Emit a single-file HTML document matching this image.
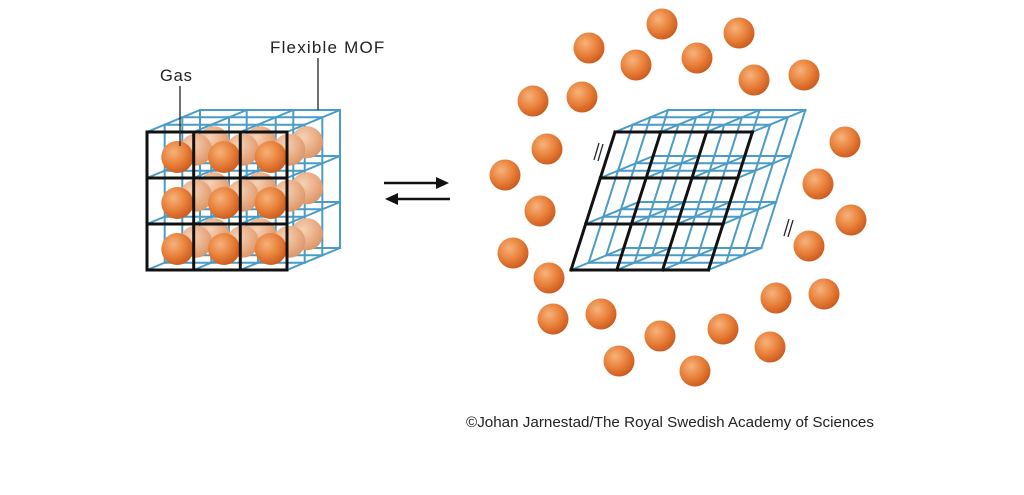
<!DOCTYPE html>
<html><head><meta charset="utf-8"><style>
html,body{margin:0;padding:0;background:#fff;}
#c{width:1024px;height:495px;position:relative;overflow:hidden;}
text{font-family:"Liberation Sans",sans-serif;}
</style></head><body><div id="c">
<svg id="s" width="1024" height="495" viewBox="0 0 1024 495" xmlns="http://www.w3.org/2000/svg">
<defs>
<radialGradient id="b" cx="0.38" cy="0.35" r="0.7">
<stop offset="0" stop-color="#f7b27a"/><stop offset="0.55" stop-color="#e8803a"/><stop offset="1" stop-color="#c9581c"/>
</radialGradient>
<radialGradient id="bl" cx="0.38" cy="0.35" r="0.7">
<stop offset="0" stop-color="#f6d2b6"/><stop offset="0.6" stop-color="#e9ad85"/><stop offset="1" stop-color="#d99468"/>
</radialGradient>
</defs>
<g id="g"></g>
<text x="160" y="81" font-size="16.5" letter-spacing="0.8" fill="#222">Gas</text>
<line x1="180" y1="86" x2="180" y2="146" stroke="#222" stroke-width="1.3"/>
<text x="270" y="53" font-size="17" letter-spacing="1.2" fill="#222">Flexible MOF</text>
<line x1="318" y1="58" x2="318" y2="110" stroke="#222" stroke-width="1.3"/>
<line x1="384" y1="183" x2="438" y2="183" stroke="#111" stroke-width="2.5"/>
<polygon points="449,183 436,177 436,189" fill="#111"/>
<line x1="396" y1="199" x2="450" y2="199" stroke="#111" stroke-width="2.5"/>
<polygon points="385,199 398,193 398,205" fill="#111"/>
<g stroke="#222" stroke-width="1.3">
<line x1="594" y1="160" x2="599" y2="143"/><line x1="598" y1="161" x2="603" y2="144"/>
<line x1="784" y1="236" x2="789" y2="219"/><line x1="788" y1="237" x2="793" y2="220"/>
</g>
<text x="466" y="427" font-size="15.2" fill="#222">©Johan Jarnestad/The Royal Swedish Academy of Sciences</text>
</svg>
<script>
var g=document.getElementById('g'),h='';
function L(a,b,c,d,col,w){h+='<line x1="'+a.toFixed(1)+'" y1="'+b.toFixed(1)+'" x2="'+c.toFixed(1)+'" y2="'+d.toFixed(1)+'" stroke="'+col+'" stroke-width="'+w+'" stroke-linecap="square"/>';}
function C(x,y,r,f){h+='<circle cx="'+x.toFixed(1)+'" cy="'+y.toFixed(1)+'" r="'+r+'" fill="url(#'+f+')"/>';}
var blue='#4a9cc6',dx=53/3,dy=-22/3;
function lattice(P,balls){
 var k,i,j;
 for(k=3;k>=1;k--){for(j=0;j<4;j++){var a=P(0,j),b=P(3,j);L(a[0]+k*dx,a[1]+k*dy,b[0]+k*dx,b[1]+k*dy,blue,2);}
  for(i=0;i<4;i++){var a=P(i,0),b=P(i,3);L(a[0]+k*dx,a[1]+k*dy,b[0]+k*dx,b[1]+k*dy,blue,2);}}
 for(i=0;i<4;i++)for(j=0;j<4;j++){var a=P(i,j);L(a[0],a[1],a[0]+3*dx,a[1]+3*dy,blue,2);}
 if(balls){for(k=2;k>=1;k--)for(j=0;j<3;j++)for(i=0;i<3;i++){var a=P(i+.5,j+.5);C(a[0]+k*dx+8,a[1]+k*dy+2,16,'bl');}
  for(j=0;j<3;j++)for(i=0;i<3;i++){var a=P(i+.5,j+.5);C(a[0]+7,a[1]+2,16,'b');}}
 for(j=0;j<4;j++){var a=P(0,j),b=P(3,j);L(a[0],a[1],b[0],b[1],'#111',3);}
 for(i=0;i<4;i++){var a=P(i,0),b=P(i,3);L(a[0],a[1],b[0],b[1],'#111',3);}
}
lattice(function(i,j){return [147+i*46.67,132+j*46];},true);
lattice(function(i,j){return [615-j*14.67+i*45.8,132+j*46];},false);
var R=[[662,24],[739,33],[589,48],[697,58],[636,65],[754,80],[804,75],[533,101],[582,97],[845,142],[547,149],[505,175],[818,184],[540,211],[851,220],[513,253],[809,246],[549,278],[776,298],[824,294],[601,314],[553,319],[660,336],[723,329],[770,347],[619,361],[695,371]];
R.forEach(function(p){C(p[0],p[1],15.5,'b');});
g.innerHTML=h;
</script>
</div></body></html>
